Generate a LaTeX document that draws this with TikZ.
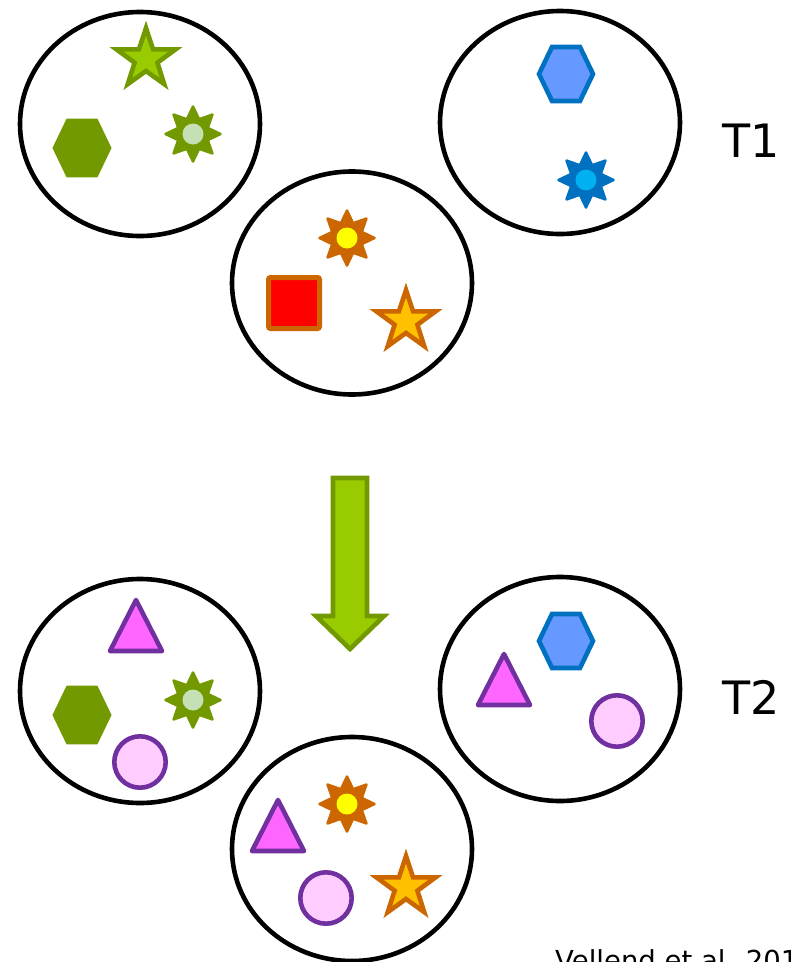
\documentclass[tikz,border=0pt]{standalone}
\usepackage{fontspec}
\setmainfont{DejaVu Sans}
\definecolor{cLime}{HTML}{99CC00}
\definecolor{cOlive}{HTML}{739900}
\definecolor{cPale}{HTML}{C5E0B4}
\definecolor{cBlueFill}{HTML}{6699FF}
\definecolor{cBlue}{HTML}{0070C0}
\definecolor{cCyan}{HTML}{00B0F0}
\definecolor{cOrange}{HTML}{CC6600}
\definecolor{cYellow}{HTML}{FFFF00}
\definecolor{cGold}{HTML}{FFC000}
\definecolor{cRed}{HTML}{FF0000}
\definecolor{cMag}{HTML}{FF66FF}
\definecolor{cPurp}{HTML}{7030A0}
\definecolor{cPink}{HTML}{FFCCFF}
\begin{document}
\begin{tikzpicture}[x=1pt,y=-1pt,
  ring/.style={draw=black,line width=4.6pt},
  pics/sunpic/.style 2 args={code={
    \filldraw[fill=#1,draw=#1,line width=2.5pt,line join=round]
      (90:27.5pt) \foreach \a in {0,45,...,315}{ -- (112.5+\a:16pt) -- (135+\a:27.5pt)} -- cycle;
    \fill[#2] (0,0) circle (10.5pt);
  }},
  pics/starpic/.style 2 args={code={
    \filldraw[fill=#1,draw=#2,line width=4.6pt,line join=miter]
      (90:31pt) \foreach \a in {0,72,...,288}{ -- (126+\a:12pt) -- (162+\a:31pt)} -- cycle;
  }},
  pics/hexpic/.style 2 args={code={
    \filldraw[fill=#1,draw=#2,line width=4.6pt]
      (-27,0) -- (-14,-27) -- (14,-27) -- (27,0) -- (14,27) -- (-14,27) -- cycle;
  }},
  pics/tripic/.style={code={
    \filldraw[fill=cMag,draw=cPurp,line width=4.6pt,line join=round]
      (0,-27) -- (26,24) -- (-26,24) -- cycle;
  }},
  pics/circpic/.style={code={
    \filldraw[fill=cPink,draw=cPurp,line width=4.6pt] (0,0) circle (25.7pt);
  }},
  label/.style={anchor=base west,inner sep=0pt,text=black}
]
\useasboundingbox (0,0) rectangle (791,962);
\clip (0,0) rectangle (791,962);

% ---------- T1 ----------
\draw[ring] (140,124) ellipse (120pt and 112pt);
\draw[ring] (560,122.5) ellipse (120pt and 111.5pt);
\draw[ring] (352,283) ellipse (120pt and 111.5pt);

\pic at (146,59) {starpic={cLime}{cOlive}};
\pic at (193,134) {sunpic={cOlive}{cPale}};
\pic at (82,148) {hexpic={cOlive}{cOlive}};

\pic at (566,74) {hexpic={cBlueFill}{cBlue}};
\pic at (586,180) {sunpic={cBlue}{cCyan}};

\pic at (347,238) {sunpic={cOrange}{cYellow}};
\filldraw[fill=cRed,draw=cOrange,line width=5pt,rounded corners=2pt]
  (268.5,277.5) rectangle (319.5,328.5);
\pic at (406,321) {starpic={cGold}{cOrange}};

\node[label,font=\fontsize{46}{46}\selectfont] (t1) at (722,157) {T1};

% ---------- arrow ----------
\filldraw[fill=cLime,draw=cOlive,line width=4.6pt]
  (333,478) -- (367,478) -- (367,616) -- (384,616) -- (350,649)
  -- (316,616) -- (333,616) -- cycle;

% ---------- T2 ----------
\draw[ring] (140,691) ellipse (120pt and 112pt);
\draw[ring] (560,689) ellipse (120pt and 112pt);
\draw[ring] (352,849) ellipse (120pt and 112pt);

\pic at (136,627) {tripic};
\pic at (82,715) {hexpic={cOlive}{cOlive}};
\pic at (193,700) {sunpic={cOlive}{cPale}};
\pic at (140,762) {circpic};

\pic at (566,641) {hexpic={cBlueFill}{cBlue}};
\pic at (504,681) {tripic};
\pic at (617,721) {circpic};

\pic at (278,827) {tripic};
\pic at (347,804) {sunpic={cOrange}{cYellow}};
\pic at (326,898) {circpic};
\pic at (406,887) {starpic={cGold}{cOrange}};

\node[label,font=\fontsize{46}{46}\selectfont] (t2) at (722,714) {T2};

\node[label,font=\fontsize{27.5}{27.5}\selectfont] (cite) at (555,970) {Vellend et al. 2010};
\end{tikzpicture}
\end{document}
